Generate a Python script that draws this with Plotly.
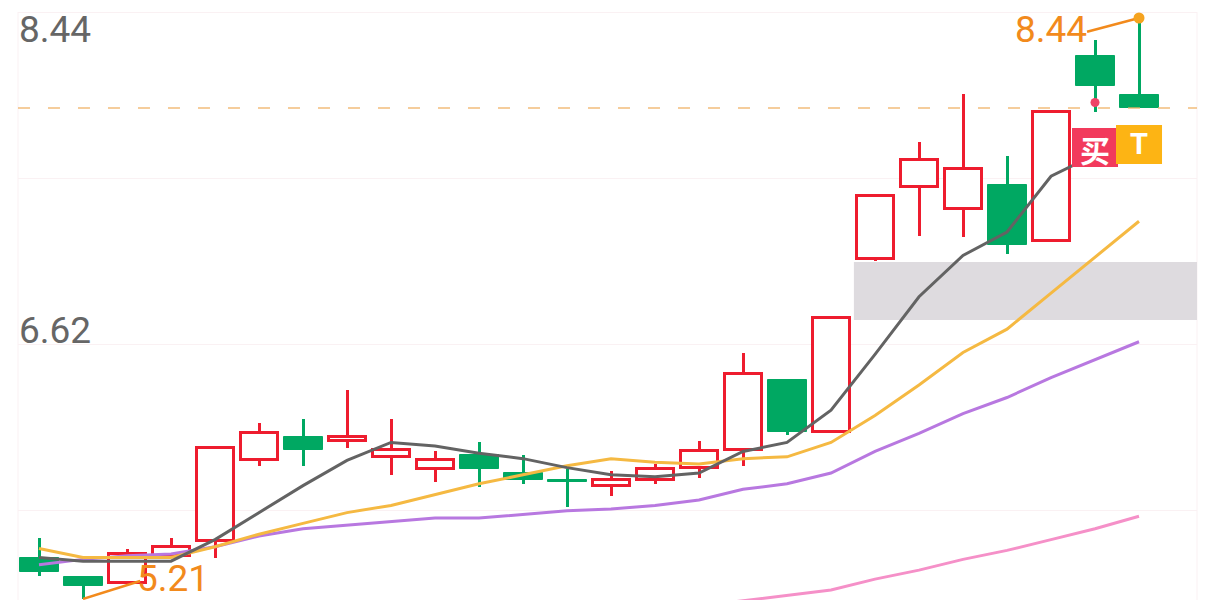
import plotly.graph_objects as go

# ---------------- data ----------------
idx = list(range(26))
opens  = [5.44, 5.33, 5.30, 5.45, 5.53, 5.98, 6.11, 6.09, 6.00, 5.93, 6.01, 5.91, 5.87,
          5.84, 5.87, 5.94, 6.04, 6.43, 6.14, 7.10, 7.50, 7.38, 7.51, 7.20, 8.23, 8.01]
highs  = [5.55, 5.34, 5.49, 5.55, 6.05, 6.19, 6.21, 6.37, 6.21, 6.03, 6.08, 6.01, 5.93,
          5.92, 5.96, 6.09, 6.58, 6.43, 6.77, 7.45, 7.75, 8.02, 7.67, 7.92, 8.32, 8.44]
lows   = [5.34, 5.21, 5.30, 5.45, 5.44, 5.95, 5.95, 6.05, 5.90, 5.86, 5.83, 5.85, 5.72,
          5.78, 5.85, 5.88, 5.95, 6.12, 6.14, 7.09, 7.23, 7.22, 7.13, 7.20, 7.92, 7.94]
closes = [5.36, 5.28, 5.46, 5.50, 6.05, 6.13, 6.04, 6.11, 6.04, 5.98, 5.93, 5.87, 5.86,
          5.87, 5.93, 6.03, 6.46, 6.14, 6.77, 7.45, 7.65, 7.60, 7.18, 7.92, 8.06, 7.94]

ma5  = [5.44, 5.42, 5.42, 5.42, 5.54, 5.69, 5.84, 5.98, 6.08, 6.06, 6.02, 5.99, 5.94,
        5.90, 5.89, 5.91, 6.03, 6.08, 6.26, 6.57, 6.89, 7.12, 7.25, 7.56, 7.68, 7.74]
ma10 = [5.49, 5.44, 5.44, 5.44, 5.50, 5.57, 5.63, 5.69, 5.73, 5.79, 5.85, 5.90, 5.95,
        5.99, 5.97, 5.96, 5.99, 6.00, 6.08, 6.23, 6.40, 6.58, 6.71, 6.91, 7.11, 7.31]
ma20 = [5.40, 5.43, 5.45, 5.46, 5.50, 5.56, 5.60, 5.62, 5.64, 5.66, 5.66, 5.68, 5.70,
        5.71, 5.73, 5.76, 5.82, 5.85, 5.91, 6.03, 6.13, 6.24, 6.33, 6.44, 6.54, 6.64]
ma60 = [None] * 15 + [5.17, 5.20, 5.23, 5.26, 5.32, 5.37, 5.43, 5.48, 5.54, 5.60, 5.67]

grid_levels = [5.699, 6.622, 7.550, 8.473]
axis_labels = ["8.44", "6.62"]
max_label = "8.44"
min_label = "5.21"
last_close = 7.94
signal_idx, signal_price = 24, 7.97
zone_low, zone_high, zone_start = 6.761, 7.083, 18.52
buy_text, t_text = "买", "T"

# ---------------- styles ----------------
RED = "#EE1C2E"
GREEN = "#00A862"
ORANGE = "#F28A1C"
GRAYTXT = "#666666"
GRID = "#FAF1F3"

# the page body has an 8px margin: figure is 1208x592, placed at (8, 8)
FIG_W, FIG_H, OFF = 1208, 592, 8
X_MIN, X_MAX = -0.4773, 26.318
Y_MIN, Y_MAX = 5.2041, 8.4956


def py(ypx):
    return 1 - (ypx - OFF) / FIG_H


up = [c >= o for o, c in zip(opens, closes)]
dn = [not u for u in up]


def pick(vals, mask):
    return [v if m else None for v, m in zip(vals, mask)]


fig = go.Figure()

# wicks
for mask, col in ((up, RED), (dn, GREEN)):
    fig.add_trace(go.Bar(
        x=idx, base=pick(lows, mask),
        y=[None if not m else h - l for h, l, m in zip(highs, lows, mask)],
        width=3 / 44, marker=dict(color=col, line=dict(width=0)),
        hoverinfo="skip"))

# bodies
fig.add_trace(go.Bar(
    x=idx, base=pick(opens, up),
    y=[None if not m else c - o for o, c, m in zip(opens, closes, up)],
    width=37 / 44, marker=dict(color="white", line=dict(color=RED, width=3)),
    hoverinfo="skip"))
fig.add_trace(go.Bar(
    x=idx, base=pick(opens, dn),
    y=[None if not m else c - o for o, c, m in zip(opens, closes, dn)],
    width=39 / 44, marker=dict(color=GREEN, line=dict(color=GREEN, width=1)),
    hoverinfo="skip"))

# moving averages
for vals, col in ((ma60, "#F590C8"), (ma20, "#B878E0"), (ma10, "#F5B942"), (ma5, "#636363")):
    fig.add_trace(go.Scatter(x=idx, y=vals, mode="lines",
                             line=dict(color=col, width=3), hoverinfo="skip"))

# max / min markers with leader lines
imax = highs.index(max(highs))
imin = lows.index(min(lows))
fig.add_trace(go.Scatter(x=[imax - 1.18, imax], y=[max(highs) - 0.076, max(highs)],
                         mode="lines", line=dict(color=ORANGE, width=2.5), hoverinfo="skip"))
fig.add_trace(go.Scatter(x=[imax], y=[max(highs)], mode="markers",
                         marker=dict(color="#F5A31F", size=11), hoverinfo="skip"))
fig.add_trace(go.Scatter(x=[imin, imin + 1.3], y=[min(lows), min(lows) + 0.10],
                         mode="lines", line=dict(color=ORANGE, width=2.5), hoverinfo="skip"))
# signal dot
fig.add_trace(go.Scatter(x=[signal_idx], y=[signal_price], mode="markers",
                         marker=dict(color="#EE4466", size=9), hoverinfo="skip"))

shapes = [
    dict(type="rect", xref="x", yref="y", x0=zone_start, x1=X_MAX, y0=zone_low, y1=zone_high,
         fillcolor="#DEDBDF", line=dict(width=0), layer="below"),
    dict(type="line", xref="paper", yref="y", x0=0, x1=0, y0=Y_MIN, y1=grid_levels[-1],
         line=dict(color=GRID, width=1), layer="below"),
    dict(type="line", xref="paper", yref="y", x0=1, x1=1, y0=Y_MIN, y1=grid_levels[-1],
         line=dict(color=GRID, width=1), layer="below"),
    dict(type="line", xref="paper", yref="y", x0=0, x1=1, y0=last_close, y1=last_close,
         line=dict(color="rgba(240,178,100,0.85)", width=1.5, dash="12px,18px"), layer="above"),
    dict(type="rect", xref="x", yref="y", x0=signal_idx - 0.523, x1=signal_idx + 0.523,
         y0=7.6116, y1=7.8284, fillcolor="#F23A5C", line=dict(width=0), layer="above"),
    dict(type="rect", xref="x", yref="y", x0=signal_idx + 0.477, x1=signal_idx + 1.523,
         y0=7.6283, y1=7.845, fillcolor="#FDB414", line=dict(width=0), layer="above"),
]

LABEL_FONT = dict(family="Roboto", size=37)
annotations = [
    dict(text=axis_labels[0], xref="paper", yref="paper", x=0, y=py(29),
         xanchor="left", yanchor="middle", showarrow=False, xshift=-1,
         font=dict(LABEL_FONT, color=GRAYTXT)),
    dict(text=axis_labels[1], xref="paper", yref="paper", x=0, y=py(330.5),
         xanchor="left", yanchor="middle", showarrow=False, xshift=-1,
         font=dict(LABEL_FONT, color=GRAYTXT)),
    dict(text=max_label, xref="x", yref="y", x=imax - 1.18, y=max(highs) - 0.065,
         xanchor="right", yanchor="middle", showarrow=False, xshift=2,
         font=dict(LABEL_FONT, color=ORANGE)),
    dict(text=min_label, xref="x", yref="y", x=imin + 1.3, y=min(lows) + 0.114,
         xanchor="left", yanchor="middle", showarrow=False, xshift=-5,
         font=dict(LABEL_FONT, color=ORANGE)),
    dict(text="<b>" + buy_text + "</b>", xref="x", yref="y", x=signal_idx, y=7.72,
         xanchor="center", yanchor="middle", showarrow=False, yshift=-1,
         font=dict(family="Noto Sans CJK SC", size=30, color="white")),
    dict(text="<b>" + t_text + "</b>", xref="x", yref="y", x=signal_idx + 1, y=7.7367,
         xanchor="center", yanchor="middle", showarrow=False,
         font=dict(family="Roboto", size=29, color="white")),
]

fig.update_layout(
    width=FIG_W, height=FIG_H,
    margin=dict(l=10, r=19, t=0, b=0),
    paper_bgcolor="white", plot_bgcolor="white",
    barmode="overlay", bargap=0, showlegend=False,
    hovermode=False,
    xaxis=dict(range=[X_MIN, X_MAX], showgrid=False, zeroline=False, showticklabels=False,
               ticks="", showline=False, fixedrange=True),
    yaxis=dict(range=[Y_MIN, Y_MAX], tickvals=grid_levels, showgrid=True, gridcolor=GRID,
               gridwidth=1, zeroline=False, showticklabels=False, ticks="", showline=False,
               fixedrange=True),
    shapes=shapes, annotations=annotations,
)

fig.write_html("out.html", config={"displayModeBar": False})
